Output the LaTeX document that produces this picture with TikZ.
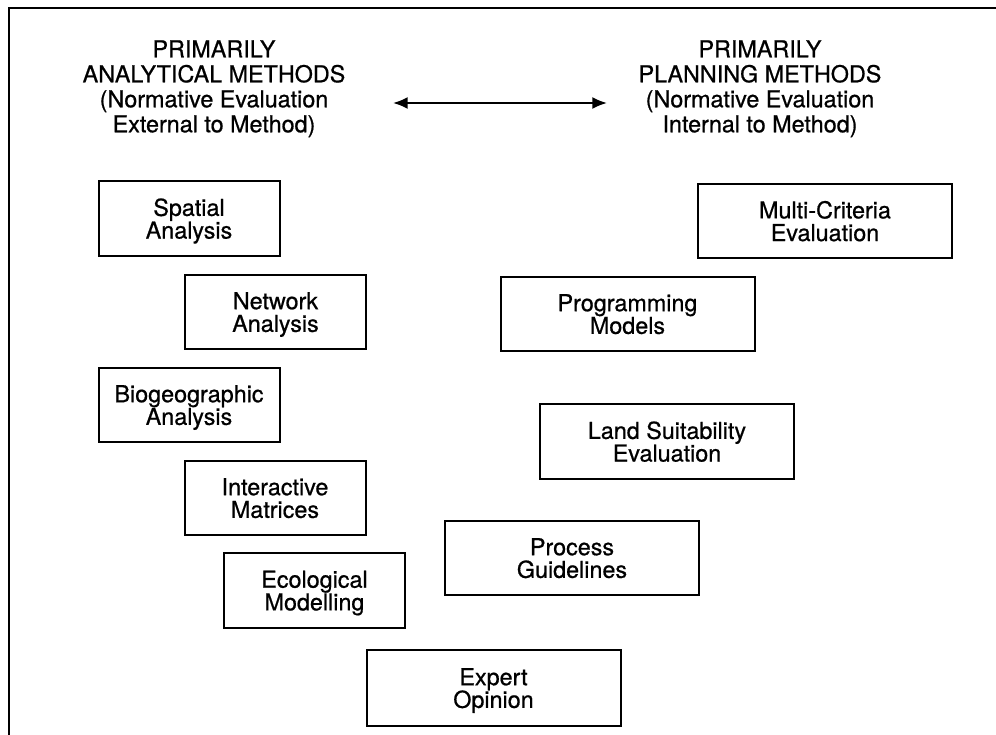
\documentclass[tikz,border=0pt]{standalone}
\usepackage{fontspec}
\setmainfont{TeX Gyre Heros}[FakeBold=0.7]
\usetikzlibrary{arrows.meta}
\tikzset{
  frameline/.style={line width=1.8pt},
  mbox/.style={draw, line width=1.5pt, rectangle, inner sep=0pt, align=center,
    font=\fontsize{17.5}{17}\selectfont, text depth=0pt},
  leftcol/.style={mbox, minimum width=135.75pt, minimum height=56pt},
  rightcol/.style={mbox, minimum width=190.5pt, minimum height=56pt},
  headtext/.style={align=center, inner sep=0pt, anchor=north,
    font=\fontsize{17.5}{18.75}\selectfont},
  twoway/.style={line width=1.5pt, {Latex[length=11pt,width=9pt]}-{Latex[length=11pt,width=9pt]}}
}
\begin{document}
\begin{tikzpicture}[x=0.75pt,y=-0.75pt]
\useasboundingbox (0,0) rectangle (996,735);
% frame (top and left)
\coordinate (fbl) at (9,735);
\coordinate (ftl) at (9,8);
\coordinate (ftr) at (996,8);
\draw[frameline] (fbl) -- (ftl) -- (ftr);
% headers
\node[headtext] (hleft) at (214,40) {PRIMARILY\\ANALYTICAL METHODS\\(Normative Evaluation\\External to Method)};
\node[headtext] (hright) at (760,40) {PRIMARILY\\PLANNING METHODS\\(Normative Evaluation\\Internal to Method)};
\coordinate (aL) at (393,103);
\coordinate (aR) at (607,103);
\draw[twoway] (aL) -- (aR);
% left column boxes
\node[leftcol] (spatial) at (189,218.5) {Spatial\\Analysis};
\node[leftcol] (network) at (275.5,312) {Network\\Analysis};
\node[leftcol] (biogeo) at (189,405) {Biogeographic\\Analysis};
\node[leftcol] (interactive) at (275,498) {Interactive\\Matrices};
\node[leftcol] (ecological) at (314.5,590.5) {Ecological\\Modelling};
% bottom
\node[rightcol, minimum height=57pt] (expert) at (493.5,688) {Expert\\Opinion};
% right column boxes
\node[rightcol] (multi) at (825,221) {Multi-Criteria\\Evaluation};
\node[rightcol] (programming) at (627.5,314) {Programming\\Models};
\node[rightcol] (land) at (667,441.5) {Land Suitability\\Evaluation};
\node[rightcol] (process) at (572,558) {Process\\Guidelines};
\end{tikzpicture}
\end{document}
